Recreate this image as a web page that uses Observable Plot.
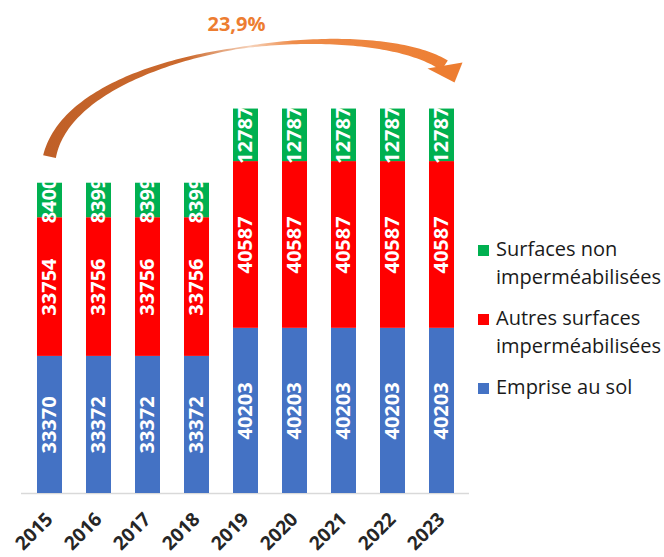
<!DOCTYPE html>
<html>
<head>
<meta charset="utf-8">
<script src="https://cdn.jsdelivr.net/npm/d3@7"></script>
<script src="https://cdn.jsdelivr.net/npm/@observablehq/plot@0.6"></script>
<style>
  html, body { margin: 0; padding: 0; background: #fff; }
  #wrap { position: relative; width: 664px; height: 557px; font-family: 'Open Sans', sans-serif; }
  #legend { position: absolute; left: 478px; top: 235px; font-size: 20px; line-height: 28px; color: #1a1a1a; }
  .item { display: flex; align-items: flex-start; margin-bottom: 13px; }
  .sw { width: 11px; height: 11px; margin-top: 10px; margin-right: 7px; flex: none; }
</style>
</head>
<body>
<div id="wrap"></div>
<script>
const years = ["2015", "2016", "2017", "2018", "2019", "2020", "2021", "2022", "2023"];
const emprise = [33370, 33372, 33372, 33372, 40203, 40203, 40203, 40203, 40203];
const autres = [33754, 33756, 33756, 33756, 40587, 40587, 40587, 40587, 40587];
const nonImper = [8400, 8399, 8399, 8399, 12787, 12787, 12787, 12787, 12787];
const seriesNames = ["Emprise au sol", "Autres surfaces imperméabilisées", "Surfaces non imperméabilisées"];
const legendLines = [["Emprise au sol"], ["Autres surfaces", "imperméabilisées"], ["Surfaces non", "imperméabilisées"]];
const legendOrder = [2, 1, 0];
const colors = ["#4472C4", "#FF0000", "#00B050"];
const growthLabel = "23,9%";

const seriesValues = [emprise, autres, nonImper];
const rows = [];
years.forEach((yr, i) => {
  let acc = 0;
  seriesValues.forEach((vals, s) => {
    rows.push({year: yr, series: seriesNames[s], value: vals[i], y1: acc, y2: acc + vals[i]});
    acc += vals[i];
  });
});
const totals = years.map((yr, i) => emprise[i] + autres[i] + nonImper[i]);

const font = "'Open Sans', sans-serif";
const plot = Plot.plot({
  width: 664,
  height: 557,
  marginLeft: 21,
  marginRight: 195,
  marginTop: 0,
  marginBottom: 64,
  style: {fontFamily: font, background: "#fff"},
  x: {domain: years, paddingInner: 0.5, paddingOuter: 0.25, axis: null},
  y: {domain: [0, 120000], axis: null},
  color: {domain: seriesNames, range: colors},
  marks: [
    Plot.ruleY([0], {stroke: "#D9D9D9", strokeWidth: 1.5}),
    Plot.barY(rows, {x: "year", y1: "y1", y2: "y2", fill: "series"}),
    Plot.text(rows, {
      x: "year", y: d => (d.y1 + d.y2) / 2, text: d => String(d.value),
      rotate: -90, fill: "white", fontWeight: "bold", fontSize: 20
    }),
    Plot.text(years, {
      x: d => d, frameAnchor: "bottom", text: d => d, rotate: -45,
      textAnchor: "end", lineAnchor: "bottom", dx: 4, dy: 27,
      fontSize: 19, fontWeight: "bold", fill: "#262626"
    })
  ]
});

document.getElementById("wrap").appendChild(plot);

// Curved growth arrow anchored on the first and last bar tops
const sx = plot.scale("x"), sy = plot.scale("y");
const bw = sx.bandwidth;
const A = [sx.apply(years[0]) + bw / 2, sy.apply(totals[0])];
const B = [sx.apply(years[years.length - 1]) + bw / 2, sy.apply(totals[totals.length - 1])];
const P0 = [A[0], A[1] - 26];
const P1 = [A[0] + 24, A[1] - 138];
const P2 = [B[0] - 74, B[1] - 94];
const P3 = [B[0] + 3, B[1] - 43];
function bez(t) {
  const u = 1 - t;
  const a = u * u * u, b = 3 * u * u * t, c = 3 * u * t * t, d = t * t * t;
  return [a * P0[0] + b * P1[0] + c * P2[0] + d * P3[0], a * P0[1] + b * P1[1] + c * P2[1] + d * P3[1]];
}
function dbez(t) {
  const u = 1 - t;
  const a = 3 * u * u, b = 6 * u * t, c = 3 * t * t;
  return [a * (P1[0] - P0[0]) + b * (P2[0] - P1[0]) + c * (P3[0] - P2[0]),
          a * (P1[1] - P0[1]) + b * (P2[1] - P1[1]) + c * (P3[1] - P2[1])];
}
function width(t) {
  const m = 0.52;
  return t < m ? 1.5 + 11.5 * (m - t) / m : 1.5 + 10.5 * (t - m) / (1 - m);
}
const N = 120, left = [], right = [];
for (let i = 0; i <= N; i++) {
  const t = i / N, p = bez(t), d = dbez(t);
  const len = Math.hypot(d[0], d[1]);
  const nx = -d[1] / len, ny = d[0] / len, w = width(t) / 2;
  left.push([p[0] + nx * w, p[1] + ny * w]);
  right.push([p[0] - nx * w, p[1] - ny * w]);
}
const shaft = "M" + left.map(p => p.join(",")).join("L") + "L" + right.reverse().map(p => p.join(",")).join("L") + "Z";
const svg = d3.select(plot);
const defs = svg.append("defs");
const grad = defs.append("linearGradient").attr("id", "arrowGrad")
  .attr("gradientUnits", "userSpaceOnUse")
  .attr("x1", A[0] - 10).attr("y1", 0).attr("x2", B[0] + 20).attr("y2", 0);
[[0, "#BF5F27"], [0.35, "#CC6A2E"], [0.5, "#F6D2BA"], [0.6, "#EE8C4A"], [1, "#ED7D31"]]
  .forEach(([o, c]) => grad.append("stop").attr("offset", o).attr("stop-color", c));
svg.append("path").attr("d", shaft).attr("fill", "url(#arrowGrad)");
const head = [[B[0] - 14, B[1] - 40], [B[0] + 21, B[1] - 46], [B[0] + 13, B[1] - 26]];
svg.append("path").attr("d", "M" + head.map(p => p.join(",")).join("L") + "Z").attr("fill", "#ED7D31");
svg.append("text")
  .attr("x", (A[0] + B[0]) / 2 - 9).attr("y", B[1] - 78)
  .attr("text-anchor", "middle").attr("fill", "#ED7D31")
  .attr("font-weight", "bold").attr("font-size", 20).attr("font-family", font)
  .text(growthLabel);

// Legend (HTML, beside the chart)
const legend = document.createElement("div");
legend.id = "legend";
legendOrder.forEach(s => {
  const item = document.createElement("div");
  item.className = "item";
  const sw = document.createElement("div");
  sw.className = "sw";
  sw.style.background = colors[s];
  const lab = document.createElement("div");
  lab.innerHTML = legendLines[s].join("<br>");
  item.appendChild(sw);
  item.appendChild(lab);
  legend.appendChild(item);
});
document.getElementById("wrap").appendChild(legend);
</script>
</body>
</html>
